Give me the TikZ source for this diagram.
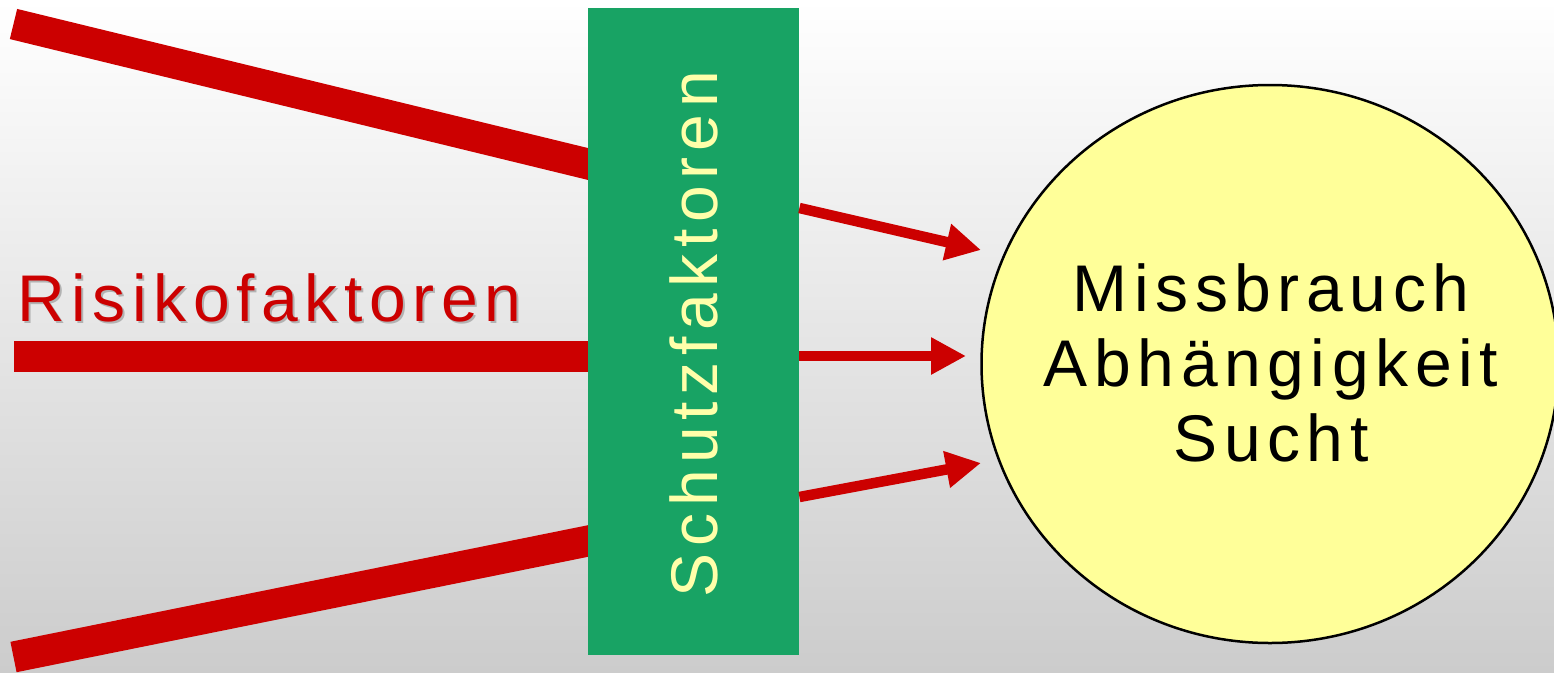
\documentclass[tikz,border=0pt]{standalone}
\usepackage{fontspec}
\newfontfamily\lsans{Liberation Sans}[LetterSpace=10]
\usetikzlibrary{shapes.geometric,arrows.meta,calc}
\definecolor{rred}{HTML}{CC0000}
\definecolor{sgreen}{HTML}{18A364}
\definecolor{pyellow}{HTML}{FFFFAA}
\definecolor{efill}{HTML}{FFFF99}
\pgfdeclarelayer{bg}
\pgfdeclarelayer{bgg}
\pgfsetlayers{bgg,bg,main}
\tikzset{
  thickbar/.style={line width=31pt, draw=rred, line cap=butt},
  thinarrow/.style={line width=10.5pt, draw=rred, -{Triangle[length=35pt,width=35pt]}},
  bigtext/.style={font=\lsans\fontsize{66}{75}\selectfont, inner sep=0pt},
}
\begin{document}
\begin{tikzpicture}[x=1pt,y=-1pt]
\useasboundingbox (0,0) rectangle (1554,672);
\begin{pgfonlayer}{bgg}
\shade[top color=white, bottom color=black!20] (0,0) rectangle (1554,672);
\end{pgfonlayer}
% protective-factor box
\node[fill=sgreen, minimum width=211pt, minimum height=647pt, inner sep=0pt, anchor=north west] (box) at (588,8) {};
\node[bigtext, text=pyellow, rotate=90, anchor=base] (schutz) at (717,334) {Schutzfaktoren};
% outcome ellipse
\node[ellipse, draw=black, line width=2.5pt, fill=efill, minimum width=577pt, minimum height=558pt, inner sep=0pt] (goal) at (1270,364) {};
\node[bigtext, align=center] (goaltext) at (1271,363) {Missbrauch\\Abhängigkeit\\Sucht};
% risk label
\node[bigtext, text=black!30, anchor=base west] (risikoshadow) at (19,323) {Risikofaktoren};
\node[bigtext, text=rred, anchor=base west] (risiko) at (17,321) {Risikofaktoren};
% start and end points
\coordinate (s1) at (13.5,24);
\coordinate (s2) at (14,356.5);
\coordinate (s3) at (13.5,657);
\coordinate (t1) at (981,250);
\coordinate (t2) at (966,356);
\coordinate (t3) at (981,463);
\begin{pgfonlayer}{bg}
\draw[thickbar] (s1) -- ($(s1)!1.03!(box.west |- 0,164)$);
\draw[thickbar] (s2) -- (box.center |- s2);
\draw[thickbar] (s3) -- ($(s3)!1.03!(box.west |- 0,541)$);
\end{pgfonlayer}
\draw[thinarrow] (box.east |- 0,208) -- (t1);
\draw[thinarrow] (box.east |- 0,356) -- (t2);
\draw[thinarrow] (box.east |- 0,497) -- (t3);
\end{tikzpicture}
\end{document}
